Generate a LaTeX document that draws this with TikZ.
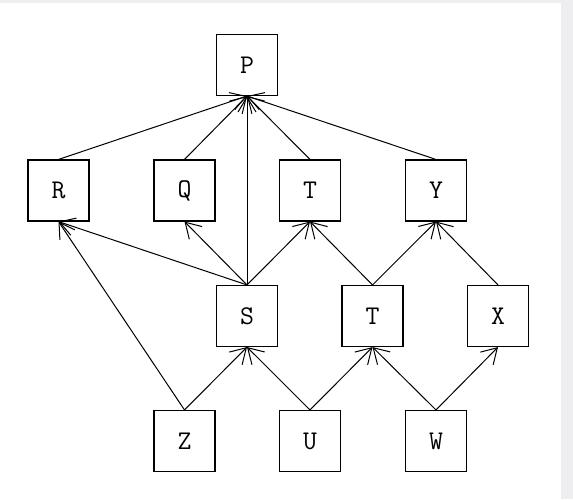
\documentclass[tikz,border=0pt]{standalone}
\usetikzlibrary{arrows.meta}
\definecolor{edgegray}{RGB}{238,238,241}
\begin{document}
\begin{tikzpicture}[x=1pt,y=-1pt,
  box/.style={draw,line width=1.1pt,minimum size=61pt,inner sep=0pt,font=\ttfamily\fontsize{27}{29}\selectfont},
  link/.style={line width=1pt,-{Straight Barb[length=15pt,width=18pt]}}]
\fill[edgegray] (0,0) rectangle (573,499);
\fill[white] (0,2.5) rectangle (561,499);
\useasboundingbox (0,0) rectangle (573,499);
\node[box] (P) at (247,65) {P};
\node[box] (R) at (58.5,190.5) {R};
\node[box] (Q) at (184.5,190.5) {Q};
\node[box] (T1) at (310,190.5) {T};
\node[box] (Y) at (436,190.5) {Y};
\node[box] (S) at (247,316) {S};
\node[box] (T2) at (372.5,316) {T};
\node[box] (X) at (498,316) {X};
\node[box] (Z) at (184.5,441) {Z};
\node[box] (U) at (310,441) {U};
\node[box] (W) at (436,441) {W};
\foreach \a/\b in {R/P,Q/P,S/P,T1/P,Y/P,S/R,S/Q,S/T1,T2/T1,T2/Y,X/Y,Z/R,Z/S,U/S,U/T2,W/T2,W/X}
  \draw[link] (\a.north) -- (\b.south);
\end{tikzpicture}
\end{document}
